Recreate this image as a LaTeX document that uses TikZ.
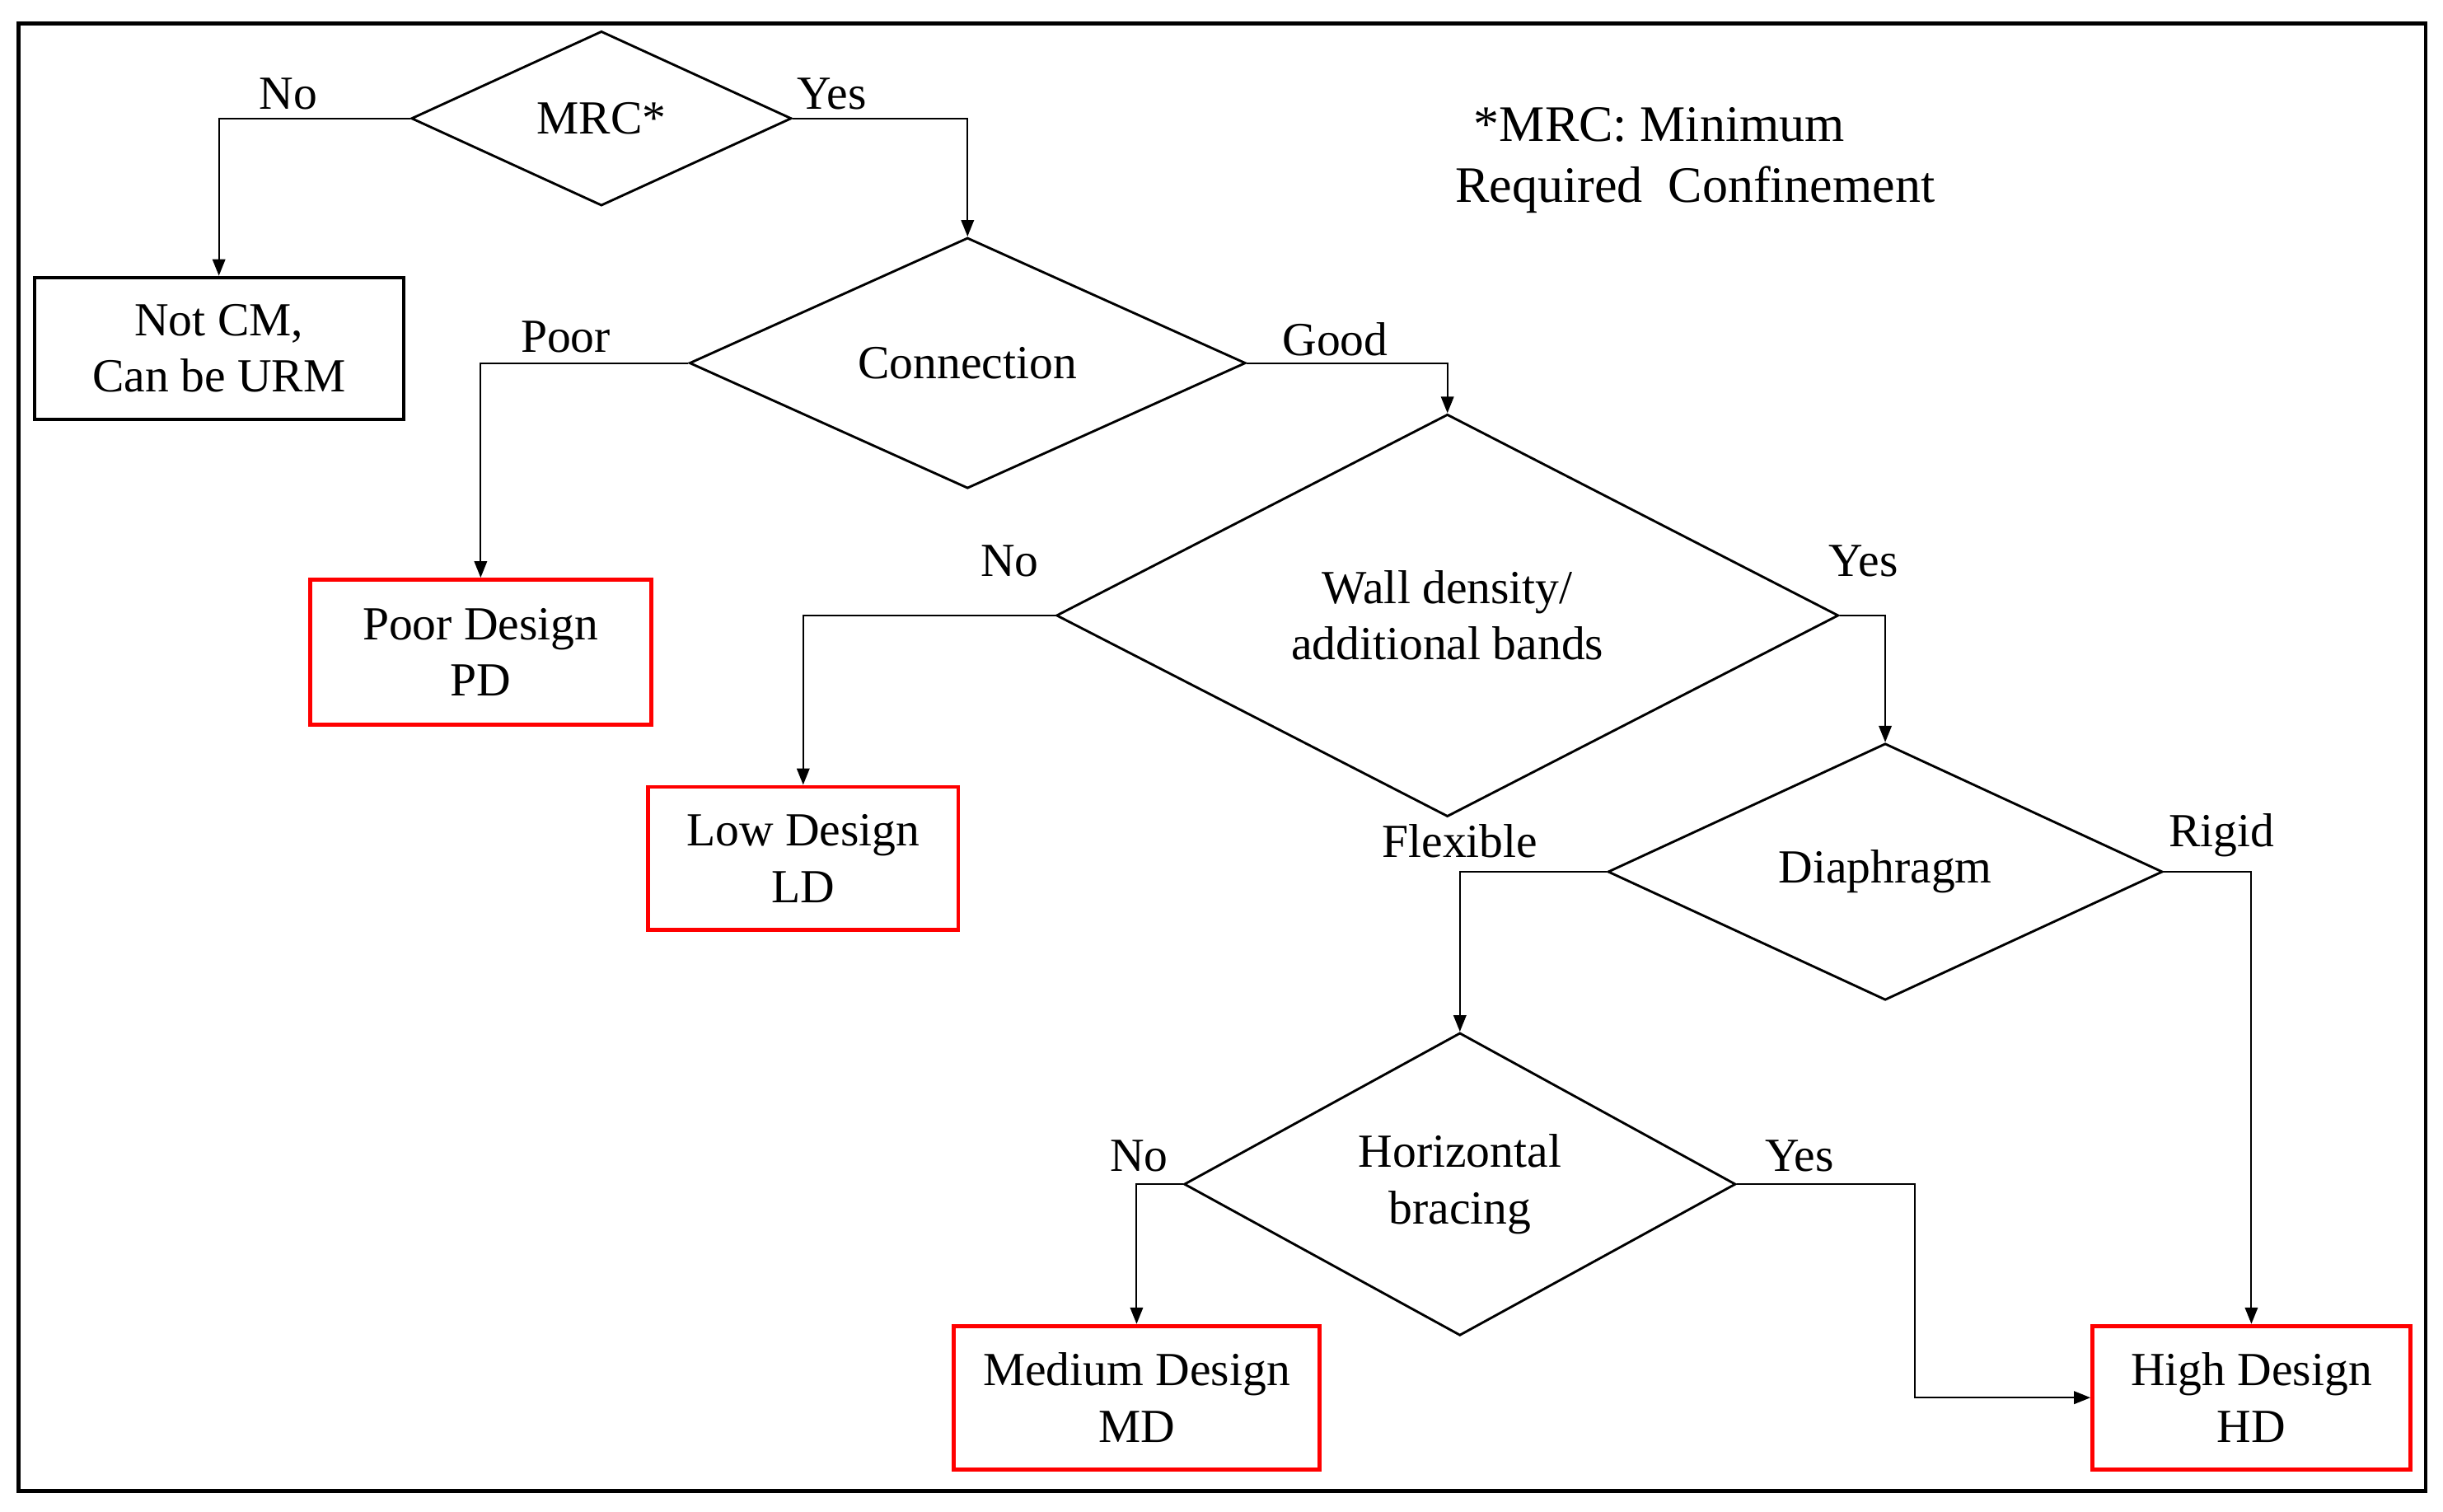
\documentclass[tikz,border=0pt]{standalone}
\usepackage{fontspec}
\setmainfont{Liberation Serif}
\usetikzlibrary{shapes.geometric,arrows.meta}
\begin{document}
\begin{tikzpicture}[x=0.03cm,y=-0.03cm,
  every node/.style={font=\fontsize{26}{31}\selectfont},
  dia/.style={diamond,draw,line width=1.3pt,inner sep=0pt,align=center},
  blk/.style={draw,line width=1.8pt,align=center,inner sep=0pt},
  red/.style={draw=red,line width=2.2pt,align=center,inner sep=0pt},
  arr/.style={line width=0.9pt,-{Triangle[length=9pt,width=7pt]}},
  lbl/.style={inner sep=0pt}]
\useasboundingbox (0,0) rectangle (1568,970);
\draw[line width=2pt] (12,15) rectangle (1557,957);
\node[dia,minimum width=244*0.03cm,minimum height=112*0.03cm] (mrc) at (386,76) {MRC*};
\node[blk,minimum width=237*0.03cm,minimum height=91*0.03cm] (notcm) at (140.5,223.5) {Not CM,\\Can be URM};
\node[dia,minimum width=357*0.03cm,minimum height=110*0.03cm] (con) at (621,233) {Connection};
\node[red,minimum width=219*0.03cm,minimum height=93*0.03cm] (pd) at (308.5,418.5) {Poor Design\\PD};
\node[dia,minimum width=502*0.03cm,minimum height=184*0.03cm] (wd) at (929,395) {Wall density/\\additional bands};
\node[red,minimum width=199*0.03cm,minimum height=92*0.03cm] (ld) at (515.5,551) {Low Design\\LD};
\node[dia,minimum width=356*0.03cm,minimum height=109*0.03cm] (dia) at (1210,559.5) {Diaphragm};
\node[dia,minimum width=354*0.03cm,minimum height=182*0.03cm] (hb) at (937,760) {Horizontal\\bracing};
\node[red,minimum width=235*0.03cm,minimum height=92*0.03cm] (md) at (729.5,897) {Medium Design\\MD};
\node[red,minimum width=204*0.03cm,minimum height=92*0.03cm] (hd) at (1445,897) {High Design\\HD};
\draw[arr] (mrc.west) -| (notcm.north);
\draw[arr] (mrc.east) -| (con.north);
\draw[arr] (con.west) -| (pd.north);
\draw[arr] (con.east) -| (wd.north);
\draw[arr] (wd.west) -| (ld.north);
\draw[arr] (wd.east) -| (dia.north);
\draw[arr] (dia.west) -| (hb.north);
\draw[arr] (dia.east) -| (hd.north);
\draw[arr] (hb.west) -| (md.north);
\coordinate (hbr) at (1229,897);
\draw[arr] (hb.east) -| (hbr) -- (hd.west);
\node[lbl] at (185,60) {No};
\node[lbl] at (534,60) {Yes};
\node[lbl] at (363,216) {Poor};
\node[lbl] at (857,218) {Good};
\node[lbl] at (648,360) {No};
\node[lbl] at (1196,360) {Yes};
\node[lbl] at (937,540) {Flexible};
\node[lbl] at (1426,536) {Rigid};
\node[lbl] at (731,742) {No};
\node[lbl] at (1155,742) {Yes};
\node[lbl,font=\fontsize{28}{33}\selectfont] at (1065,80) {*MRC: Minimum};
\node[lbl,font=\fontsize{28}{33}\selectfont] at (1088,122) {Required\ \ Confinement};
\end{tikzpicture}
\end{document}
